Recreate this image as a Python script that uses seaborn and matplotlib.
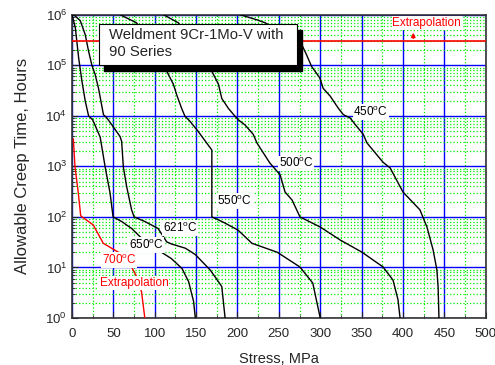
import matplotlib
matplotlib.use("Agg")
import matplotlib.pyplot as plt
import matplotlib.patches as mpatches
import pandas as pd
import seaborn as sns

# curves: stress (MPa) vs allowable creep time (hours)
stress_450 = [203, 223.5, 233.5, 256, 277.5, 283.5, 289.5, 299.5, 303.5, 312, 322, 328, 336, 344, 352,
              356.5, 376, 384.5, 400, 420.5, 429, 436.5, 441, 442.5, 443.5]
hours_450 = [1e6, 7.9e5, 6.9e5, 4.2e5, 2.6e5, 1.6e5, 9.5e4, 5.6e4, 3.5e4, 2.45e4, 1.4e4, 1.05e4, 9.1e3,
             6.2e3, 4.3e3, 2.9e3, 1.2e3, 930, 310, 138, 63, 22, 8.9, 4.1, 1.0]

stress_500 = [110.5, 128.5, 150, 169, 177, 181, 189, 197, 201, 209, 219, 223.5, 239, 251.5, 257.5, 266,
              275.5, 300, 324, 350.5, 376, 388, 394, 396.5]
hours_500 = [1e6, 6.9e5, 2.2e5, 7.6e4, 4.2e4, 2.2e4, 1.4e4, 9.8e3, 8.3e3, 6.6e3, 4.3e3, 2.9e3, 1.17e3,
             680, 310, 215, 100, 63, 35, 20, 10.2, 5.6, 2.3, 1.0]

stress_550 = [58, 78, 94, 114.5, 122.5, 126.5, 132.5, 136.5, 142.5, 152.5, 158.5, 169, 169, 182.5, 200.5,
              217.5, 248, 275.5, 291, 300]
hours_550 = [1e6, 6.9e5, 2.5e5, 7.6e4, 4.2e4, 2.6e4, 1.4e4, 9.8e3, 7.8e3, 4.9e3, 3.6e3, 2.1e3, 100, 79, 55,
             30, 20, 10.2, 4.9, 1.0]

stress_621 = [2, 10, 16, 20, 24, 28, 32, 38, 42, 50, 58, 60, 62, 66, 72, 75, 88, 104, 114.5, 120.5, 137,
              149, 167, 181, 185]
hours_621 = [1e6, 7.6e5, 4.0e5, 1.9e5, 1.0e5, 6.5e4, 3.5e4, 1.05e4, 9.1e3, 6.0e3, 3.9e3, 3.1e3, 980, 400,
             138, 100, 81, 59, 32, 29, 24, 18, 8.9, 4.2, 1.0]

stress_650 = [0, 4, 8, 12, 16, 20, 25, 34, 40, 46, 49.6, 60, 72, 84, 94, 108, 120, 133, 141, 147, 149]
hours_650 = [1e6, 5.5e5, 1.4e5, 4.8e4, 1.95e4, 1.0e4, 8.3e3, 3.8e3, 980, 295, 100, 81, 59, 38, 26, 20, 15,
             9.5, 5.2, 2.1, 1.0]

stress_700 = [1.6, 3.6, 7.6, 10.5, 25.7, 37.8, 56, 66, 72, 78, 84, 88]
hours_700 = [3.5e3, 980, 295, 105, 69, 30, 20, 16, 10.2, 6.6, 3.3, 1.0]

temps = ["450", "500", "550", "621", "650", "700"]
curve_x = [stress_450, stress_500, stress_550, stress_621, stress_650, stress_700]
curve_y = [hours_450, hours_500, hours_550, hours_621, hours_650, hours_700]

# label positions (stress, hours)
label_pos = {"450": (361, 1.2e4), "500": (270.7, 1.15e3), "550": (196.4, 205),
             "621": (130.5, 60), "650": (89.4, 28), "700": (56.9, 14)}

extrap_limit = 3e5

rows = []
for t, xs, ys in zip(temps, curve_x, curve_y):
    for i, (a, b) in enumerate(zip(xs, ys)):
        rows.append({"temp": t, "order": i, "stress": a, "hours": b})
df = pd.DataFrame(rows)

sns.set_style("ticks")
plt.rcParams['font.family'] = ['Liberation Sans', 'DejaVu Sans']
plt.rcParams['mathtext.fontset'] = 'custom'
plt.rcParams['mathtext.rm'] = 'Liberation Sans'
plt.rcParams['mathtext.it'] = 'Liberation Sans:italic'

fig = plt.figure(figsize=(4.95, 3.65), dpi=100)
ax = fig.add_axes([0.1455, 0.1288, 0.8357, 0.831])

palette = {t: "black" for t in temps}
palette["700"] = "red"
sns.lineplot(data=df, x="stress", y="hours", hue="temp", palette=palette, sort=False,
             estimator=None, legend=False, lw=1.0, ax=ax, zorder=3)

ax.set_yscale("log")
ax.set_xlim(0, 500)
ax.set_ylim(1, 1e6)
ax.set_xticks(range(0, 501, 50))
ax.set_xticks(range(25, 500, 50), minor=True)

ax.grid(which="major", color="#0000ff", lw=1.0, ls="-")
ax.grid(which="minor", color="#00ee00", lw=0.9, ls=":")
ax.set_axisbelow(True)

ax.tick_params(which="both", direction="in", labelsize=9.5, color="#222222")
ax.tick_params(axis="x", which="major", pad=7)
ax.tick_params(which="major", length=4)
ax.tick_params(which="minor", length=2.5)
for s in ax.spines.values():
    s.set_color("#333333")
    s.set_linewidth(1.2)

ax.set_xlabel("Stress, MPa", fontsize=10.5, labelpad=9)
ax.set_ylabel("Allowable Creep Time, Hours", fontsize=12, labelpad=11)

ax.axhline(extrap_limit, color="red", lw=1.2, zorder=3)
ax.annotate("", xy=(412.5, 5.0e5), xytext=(412.5, extrap_limit),
            arrowprops=dict(arrowstyle="-|>", color="red", lw=1, mutation_scale=6), zorder=4)
ax.text(428.7, 6.9e5, "Extrapolation", color="red", fontsize=8.5, ha="center", va="center",
        bbox=dict(fc="white", ec="none", pad=0.5), zorder=4)

for t in temps:
    lx, ly = label_pos[t]
    ax.text(lx, ly, t + r"$^{\rm o}$C", fontsize=8.5, ha="center", va="center",
            color="red" if t == "700" else "black",
            bbox=dict(fc="white", ec="none", pad=0.6), zorder=5)
ax.text(75, 4.9, "Extrapolation", color="red", fontsize=8.5, ha="center", va="center",
        bbox=dict(fc="white", ec="none", pad=0.5), zorder=5)

# title box with drop shadow
bx, by, bw, bh = 0.0653, 0.834, 0.4786, 0.1353
ax.add_patch(mpatches.Rectangle((bx + 0.012, by - 0.02), bw, bh, transform=ax.transAxes,
                                fc="black", ec="black", zorder=6, clip_on=False))
ax.add_patch(mpatches.Rectangle((bx, by), bw, bh, transform=ax.transAxes,
                                fc="white", ec="black", lw=0.8, zorder=7, clip_on=False))
ax.text(0.089, 0.904, "Weldment 9Cr-1Mo-V with\n90 Series", transform=ax.transAxes,
        fontsize=10.7, ha="left", va="center", linespacing=1.25, zorder=8)

plt.savefig("out.png", dpi=100)
